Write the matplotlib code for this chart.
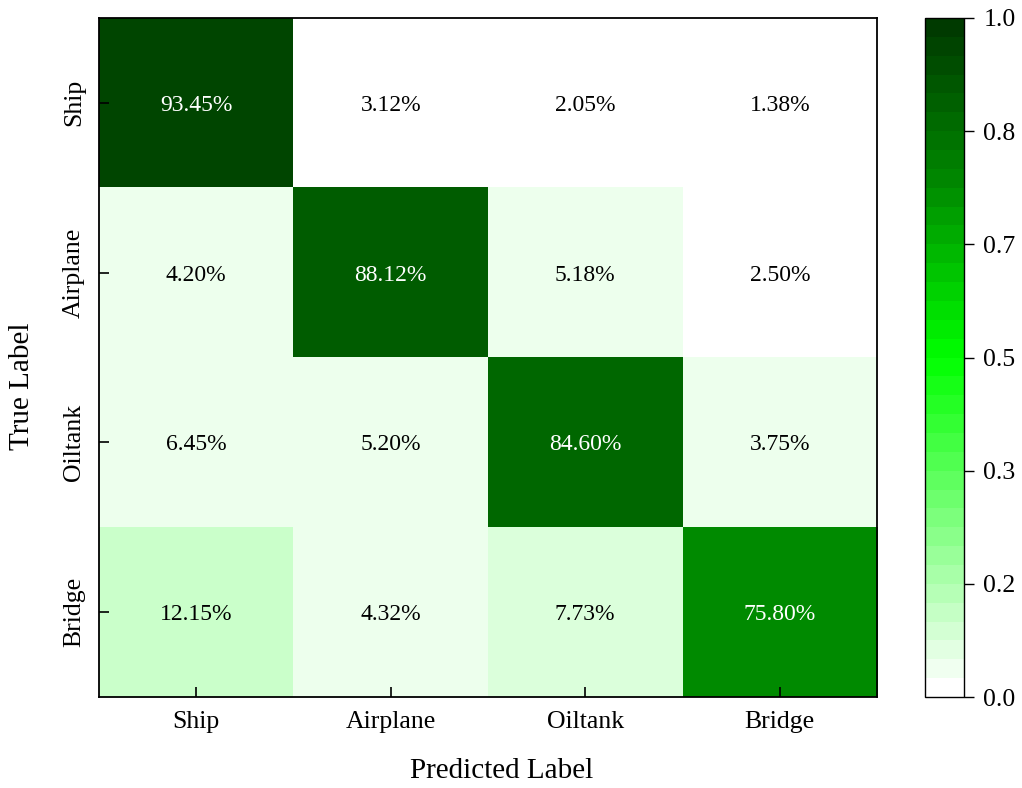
import numpy as np
import matplotlib
matplotlib.use("Agg")
import matplotlib.pyplot as plt
import matplotlib.cm as mcm
from matplotlib.colors import LinearSegmentedColormap, Normalize

plt.rcParams['font.family'] = ['Liberation Serif', 'DejaVu Serif']

classes = ["Ship", "Airplane", "Oiltank", "Bridge"]
row_ship = [93.45, 3.12, 2.05, 1.38]
row_airplane = [4.20, 88.12, 5.18, 2.50]
row_oiltank = [6.45, 5.20, 84.60, 3.75]
row_bridge = [12.15, 4.32, 7.73, 75.80]

cm = np.array([row_ship, row_airplane, row_oiltank, row_bridge]) / 100.0

# white -> lime -> dark green, quantized
base = LinearSegmentedColormap.from_list(
    "greens", [(0.0, "#ffffff"), (0.5, "#00ff00"), (0.76, "#008a00"), (1.0, "#003a00")], N=256)
cmap_cells = base.resampled(30)
cmap_bar = base.resampled(36)   # colorbar in the original shows finer steps

fig = plt.figure(figsize=(10.22, 7.88), dpi=100)
W, H = 1022, 788
ax = fig.add_axes([99 / W, 1 - 697 / H, (877 - 99) / W, (697 - 18) / H])
cax = fig.add_axes([925 / W, 1 - 697 / H, (964 - 925) / W, (697 - 18) / H])

ax.imshow(cm, cmap=cmap_cells, vmin=0, vmax=1, aspect='auto', interpolation='nearest')

for i in range(cm.shape[0]):
    for j in range(cm.shape[1]):
        v = cm[i, j]
        ax.text(j, i, "%.2f%%" % (v * 100), ha='center', va='center_baseline',
                fontsize=17, color='white' if v > 0.5 else 'black')

ax.set_xticks(range(len(classes)))
ax.set_xticklabels(classes, fontsize=18.5)
ax.set_yticks(range(len(classes)))
ax.set_yticklabels(classes, fontsize=18.5, rotation=90, va='center')
ax.tick_params(direction='in', length=7, width=1.2, pad=10)
for s in ax.spines.values():
    s.set_linewidth(1.3)

# axis titles sit a bit off the axes centre in the original
fig.text(502 / W, 1 - 771 / H, "Predicted Label", fontsize=21, ha='center', va='center')
fig.text(22 / W, 1 - 386 / H, "True Label", fontsize=21, ha='center', va='center', rotation=90)

sm = mcm.ScalarMappable(norm=Normalize(0, 1), cmap=cmap_bar)
cb = fig.colorbar(sm, cax=cax)
ticks = np.linspace(0, 1, 7)
cb.set_ticks(ticks)
cb.set_ticklabels(["%.1f" % t for t in ticks])
cb.ax.tick_params(labelsize=18.5, length=7, width=1.0, direction='out', pad=7)
cb.outline.set_linewidth(1.0)

fig.savefig("out.png", dpi=100)
